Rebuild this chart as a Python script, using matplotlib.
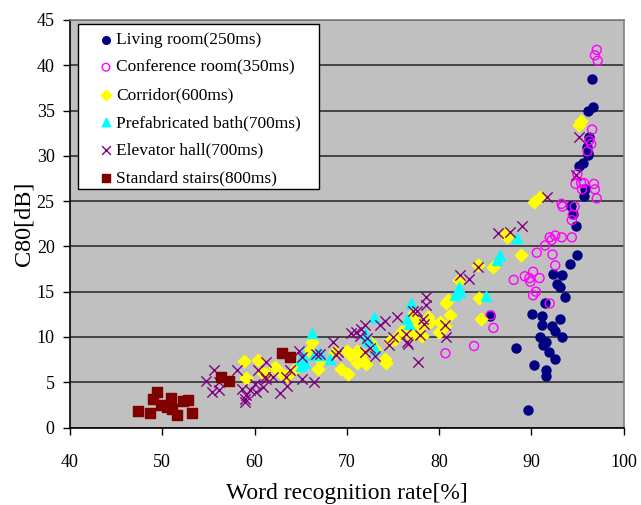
import matplotlib
matplotlib.use("Agg")
import matplotlib.pyplot as plt
from matplotlib.patches import Rectangle

plt.rcParams['font.family'] = ['Liberation Serif', 'DejaVu Serif']

living_x = [85.5, 88.3, 89.6, 90.1, 90.3, 91.0, 91.2, 91.2, 91.3, 91.6, 91.9, 91.6, 91.6, 91.5, 92.3,
            92.6, 93.1, 93.3, 92.6, 92.4, 92.8, 93.3, 93.1, 93.7, 94.2, 95.0, 94.8, 94.3, 94.5, 95.7,
            95.8, 95.2, 95.6, 96.1, 96.6, 96.7, 96.1, 96.3, 96.0, 96.2]
living_y = [12.3, 8.8, 1.9, 12.5, 6.9, 10.0, 12.3, 11.3, 9.1, 9.4, 8.3, 6.3, 5.7, 13.7, 11.2,
            10.7, 12.0, 10.0, 7.6, 17.0, 15.9, 16.8, 15.5, 14.4, 18.1, 19.1, 22.2, 24.5, 23.6, 25.6,
            26.3, 28.9, 29.2, 30.1, 38.5, 35.4, 34.9, 32.1, 31.0, 30.3]

conf_x = [80.7, 83.8, 85.9, 85.6, 88.1, 89.3, 89.8, 90.2, 90.9, 89.9, 90.2, 90.5, 92.0, 90.6, 91.5,
          92.3, 92.6, 92.2, 92.6, 93.3, 92.0, 94.4, 93.3, 93.4, 94.5, 94.4, 94.7, 95.0, 94.8, 95.4,
          95.7, 95.5, 96.8, 96.9, 97.1, 97.1, 96.9, 97.2, 96.6, 96.3, 96.5, 96.1]
conf_y = [8.2, 9.0, 11.0, 12.4, 16.3, 16.7, 16.5, 17.2, 16.5, 16.1, 14.6, 15.0, 13.7, 19.3, 20.1,
          19.1, 17.9, 20.7, 21.2, 21.0, 21.0, 21.0, 24.7, 24.4, 23.5, 22.9, 24.4, 28.0, 26.9, 27.0,
          27.0, 26.3, 26.9, 26.3, 25.3, 41.7, 41.1, 40.5, 32.9, 31.7, 31.3, 30.5]

corr_x = [58.9, 59.1, 60.4, 60.9, 61.3, 62.2, 62.9, 63.5, 64.5, 65.2, 65.9, 66.2, 66.9, 67.2, 68.7,
          69.4, 70.1, 70.0, 70.3, 71.1, 71.1, 72.1, 71.6, 72.5, 73.1, 74.2, 74.3, 74.7, 75.2, 76.0,
          76.5, 77.2, 76.8, 77.5, 77.2, 77.9, 78.2, 78.8, 79.0, 80.1, 80.0, 80.7, 81.2, 80.8, 81.0,
          82.2, 84.2, 84.3, 84.6, 85.9, 87.4, 87.3, 88.9, 90.3, 90.9, 95.2, 95.4]
corr_y = [7.3, 5.5, 7.5, 6.0, 5.9, 6.7, 6.0, 5.7, 6.6, 7.3, 8.5, 9.4, 6.5, 7.4, 8.3,
          6.5, 5.9, 8.5, 8.0, 8.5, 7.1, 7.0, 8.1, 9.4, 8.7, 7.6, 7.1, 9.6, 9.8, 10.7,
          10.9, 10.3, 10.3, 11.7, 12.5, 11.1, 10.1, 12.2, 11.6, 11.6, 10.6, 11.2, 12.4, 13.7, 14.1,
          16.3, 17.9, 14.3, 12.0, 17.7, 21.0, 21.4, 19.1, 24.9, 25.5, 33.4, 33.8]

bath_x = [64.9, 65.3, 65.5, 65.0, 66.2, 66.5, 67.0, 67.2, 68.2, 72.0, 72.1, 72.4, 72.9, 73.1, 76.5,
          77.0, 76.8, 81.7, 82.2, 82.3, 85.1, 86.3, 86.6, 88.5]
bath_y = [7.4, 8.0, 7.1, 6.8, 10.4, 8.0, 8.3, 8.0, 7.6, 10.4, 9.8, 9.5, 12.2, 8.7, 12.0,
          13.7, 11.4, 14.6, 15.5, 15.0, 14.5, 18.5, 19.0, 20.9]

elev_x = [54.7, 55.6, 55.4, 56.1, 56.2, 58.1, 58.6, 59.0, 59.1, 59.5, 60.2, 60.9, 61.3, 60.4, 61.3,
          60.0, 61.1, 62.0, 62.8, 63.5, 63.4, 63.8, 64.8, 65.2, 65.1, 66.5, 66.7, 67.1, 68.5, 69.0,
          68.8, 70.5, 71.0, 71.5, 72.0, 71.4, 72.0, 72.5, 73.1, 72.2, 73.6, 74.1, 75.4, 75.0, 74.6,
          76.5, 76.4, 77.6, 77.7, 78.6, 78.6, 77.2, 78.3, 78.4, 77.9, 76.6, 80.6, 80.8, 82.3, 83.2,
          84.2, 86.4, 87.7, 89.0, 91.7, 94.9, 95.2, 59.0]
elev_y = [5.1, 6.4, 3.9, 4.1, 5.0, 6.3, 4.3, 3.2, 3.6, 4.1, 3.9, 4.5, 5.4, 6.3, 7.2,
          4.8, 5.6, 5.6, 3.8, 4.6, 5.6, 6.3, 8.5, 7.8, 5.4, 5.0, 8.1, 8.1, 9.4, 8.3,
          8.0, 10.4, 10.6, 10.9, 11.3, 10.1, 8.3, 8.8, 7.9, 9.9, 11.3, 11.8, 12.2, 10.0, 9.1,
          9.4, 10.3, 12.9, 7.2, 14.4, 13.5, 12.9, 12.0, 11.4, 10.2, 9.2, 11.3, 10.0, 16.8, 16.4,
          17.7, 21.5, 21.6, 22.2, 25.4, 27.9, 32.1, 2.8]

stairs_x = [47.4, 48.7, 49.4, 49.0, 49.9, 50.5, 50.9, 51.1, 51.6, 52.2, 52.8, 53.2, 56.4, 57.2, 63.0, 63.8]
stairs_y = [1.8, 1.6, 3.9, 3.2, 2.5, 2.3, 3.3, 2.0, 1.4, 2.9, 3.0, 1.6, 5.6, 5.1, 8.2, 7.8]

labels = ["Living room(250ms)", "Conference room(350ms)", "Corridor(600ms)",
          "Prefabricated bath(700ms)", "Elevator hall(700ms)", "Standard stairs(800ms)"]

x_ticks = [40, 50, 60, 70, 80, 90, 100]
y_ticks = [0, 5, 10, 15, 20, 25, 30, 35, 40, 45]

W, H = 641, 505
fig = plt.figure(figsize=(W / 100, H / 100), dpi=100)
ax = fig.add_axes([70 / W, 1 - 427.5 / H, 553.5 / W, 407.5 / H])
ax.set_facecolor('#C0C0C0')

ax.scatter(living_x, living_y, s=42, marker='o', color='#000080', label=labels[0], zorder=3)
ax.scatter(conf_x, conf_y, s=42, marker='o', facecolors='none', edgecolors='#FF00FF',
           linewidths=1.0, label=labels[1], zorder=3)
ax.scatter(corr_x, corr_y, s=40, marker='D', color='#FFFF00', label=labels[2], zorder=3)
ax.scatter(bath_x, bath_y, s=52, marker='^', color='#00FFFF', label=labels[3], zorder=3)
ax.scatter(elev_x, elev_y, s=55, marker='x', color='#800080', linewidths=1.0, label=labels[4], zorder=3)
ax.scatter(stairs_x, stairs_y, s=55, marker='s', color='#800000', label=labels[5], zorder=3)

ax.set_xlim(40, 100)
ax.set_ylim(0, 45)
ax.set_xticks(x_ticks)
ax.set_yticks(y_ticks)
ax.yaxis.grid(True, color='#303030', linewidth=1.2, zorder=1)
ax.set_axisbelow(True)
ax.tick_params(axis='both', direction='out', length=5, width=1, labelsize=13, colors='black')
ax.tick_params(axis='x', pad=14)
ax.tick_params(axis='y', pad=6)
for side in ['top', 'right']:
    ax.spines[side].set_color('#808080')
    ax.spines[side].set_linewidth(1.2)
for side in ['bottom', 'left']:
    ax.spines[side].set_color('black')
    ax.spines[side].set_linewidth(1.2)

ax.set_xlabel("Word recognition rate[%]", fontsize=17, labelpad=9)
ax.set_ylabel("C80[dB]", fontsize=17.5)
ax.yaxis.set_label_coords((35 - 70) / 553.5, 0.5)

# legend box
box = Rectangle((78 / W, 1 - 189 / H), 241 / W, 165 / H, transform=fig.transFigure,
                facecolor='white', edgecolor='black', linewidth=1.0, zorder=4, clip_on=False)
ax.add_patch(box)
leg = ax.legend(loc='upper left', bbox_to_anchor=(97.3 / W, 1 - 32 / H),
                bbox_transform=fig.transFigure, borderaxespad=0, borderpad=0,
                fontsize=12.5, frameon=False, handlelength=1.0, handletextpad=0.08,
                labelspacing=0.66, markerscale=0.85)
leg.set_zorder(5)

fig.savefig("out.png", dpi=100)
